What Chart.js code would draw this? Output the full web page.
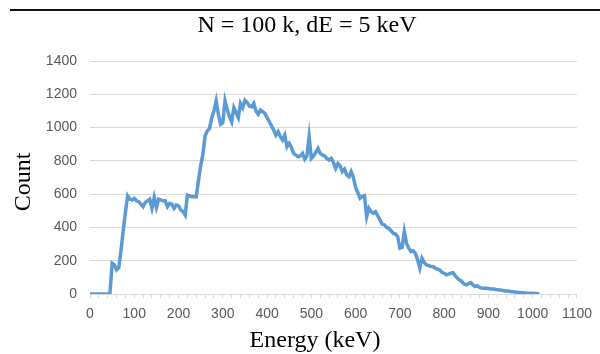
<!DOCTYPE html>
<html>
<head>
  <meta charset="UTF-8">
  <title>Energy spectrum</title>
  <script src="https://cdn.jsdelivr.net/npm/chart.js"></script>
  <style>
    body { margin: 0; background: #fff; }
  </style>
</head>
<body>
  <canvas id="spectrum" width="600" height="354"></canvas>

  <script>
    // energy bins (keV), 5 keV wide
    const energies = [
      0, 5, 10, 15, 20, 25, 30, 35, 40, 45,
      50, 55, 60, 65, 70, 75, 80, 85, 90, 95,
      100, 105, 110, 115, 120, 125, 130, 135, 140, 145,
      150, 155, 160, 165, 170, 175, 180, 185, 190, 195,
      200, 205, 210, 215, 220, 225, 230, 235, 240, 245,
      250, 255, 260, 265, 270, 275, 280, 285, 290, 295,
      300, 305, 310, 315, 320, 325, 330, 335, 340, 345,
      350, 355, 360, 365, 370, 375, 380, 385, 390, 395,
      400, 405, 410, 415, 420, 425, 430, 435, 440, 445,
      450, 455, 460, 465, 470, 475, 480, 485, 490, 495,
      500, 505, 510, 515, 520, 525, 530, 535, 540, 545,
      550, 555, 560, 565, 570, 575, 580, 585, 590, 595,
      600, 605, 610, 615, 620, 625, 630, 635, 640, 645,
      650, 655, 660, 665, 670, 675, 680, 685, 690, 695,
      700, 705, 710, 715, 720, 725, 730, 735, 740, 745,
      750, 755, 760, 765, 770, 775, 780, 785, 790, 795,
      800, 805, 810, 815, 820, 825, 830, 835, 840, 845,
      850, 855, 860, 865, 870, 875, 880, 885, 890, 895,
      900, 905, 910, 915, 920, 925, 930, 935, 940, 945,
      950, 955, 960, 965, 970, 975, 980, 985, 990, 995,
      1000, 1005, 1010, 1015
    ];

    // counts per bin
    const counts = [
      0, 0, 0, 0, 0, 0, 0, 0, 0, 0,
      185, 175, 145, 160, 260, 380, 490, 590, 570, 565,
      575, 560, 555, 540, 525, 550, 560, 570, 515, 580,
      520, 570, 565, 560, 560, 525, 545, 540, 515, 535,
      530, 505, 495, 474, 594, 590, 584, 586, 584, 680,
      770, 840, 950, 980, 995, 1060, 1100, 1160, 1080, 1020,
      1030, 1160, 1110, 1065, 1035, 1120, 1090, 1060, 1145, 1120,
      1164, 1150, 1130, 1125, 1145, 1100, 1080, 1105, 1095, 1085,
      1060, 1035, 1010, 985, 955, 975, 945, 925, 955, 885,
      905, 880, 845, 835, 825, 830, 845, 810, 830, 945,
      815, 830, 850, 875, 845, 835, 830, 815, 805, 815,
      790, 755, 785, 770, 735, 750, 715, 705, 735, 700,
      640, 610, 575, 585, 590, 465, 515, 495, 485, 495,
      470, 445, 420, 415, 400, 395, 380, 365, 360, 345,
      275, 280, 375, 305, 275, 255, 260, 244, 205, 155,
      215, 190, 175, 170, 165, 165, 155, 150, 145, 130,
      125, 115, 120, 125, 128, 110, 95, 84, 75, 60,
      55, 62, 68, 55, 45, 50, 40, 36, 34, 35,
      33, 30, 30, 28, 26, 24, 22, 20, 18, 18,
      15, 13, 12, 10, 9, 8, 7, 6, 5, 5,
      4, 3, 3, 2
    ];

    const chartTitle = 'N = 100 k, dE = 5 keV';
    const xTitle = 'Energy (keV)';
    const yTitle = 'Count';

    const points = energies.map((e, i) => ({ x: e, y: counts[i] }));

    const serif = '"Liberation Serif", "Times New Roman", serif';
    const sans = '"Liberation Sans", Arial, sans-serif';

    // white background, black rule, and the serif titles (placed like the original figure)
    const figureText = {
      id: 'figureText',
      beforeDraw(chart) {
        const ctx = chart.ctx;
        ctx.save();
        ctx.fillStyle = '#fff';
        ctx.fillRect(0, 0, chart.width, chart.height);
        ctx.fillStyle = '#111';
        ctx.fillRect(10, 9, chart.width - 10, 2);
        ctx.restore();
      },
      afterDraw(chart) {
        const ctx = chart.ctx;
        ctx.save();
        ctx.fillStyle = '#000';
        ctx.font = '24px ' + serif;
        ctx.textAlign = 'center';
        ctx.textBaseline = 'alphabetic';
        ctx.fillText(chartTitle, 307, 32);
        ctx.fillText(xTitle, 315, 347);
        ctx.translate(30, 182);
        ctx.rotate(-Math.PI / 2);
        ctx.fillText(yTitle, 0, 0);
        ctx.restore();
      }
    };

    new Chart(document.getElementById('spectrum'), {
      type: 'line',
      data: {
        datasets: [{
          data: points,
          borderColor: '#5b9bd5',
          borderWidth: 3.5,
          pointRadius: 0,
          tension: 0,
          fill: false
        }]
      },
      options: {
        responsive: false,
        animation: false,
        layout: { padding: { top: 61, left: 0, right: 21, bottom: 0 } },
        plugins: {
          legend: { display: false },
          tooltip: { enabled: false },
          title: { display: false }
        },
        scales: {
          x: {
            type: 'linear',
            min: 0,
            max: 1100,
            ticks: {
              stepSize: 20,
              autoSkip: false,
              maxRotation: 0,
              color: '#595959',
              font: { family: sans, size: 14 },
              padding: 8,
              callback: v => (v % 100 === 0 ? String(v) : '')
            },
            grid: { drawOnChartArea: false, tickLength: 4, color: '#d9d9d9' },
            border: { color: '#d9d9d9' },
            afterFit(scale) { scale.height = 60; }
          },
          y: {
            min: 0,
            max: 1400,
            ticks: {
              stepSize: 200,
              color: '#595959',
              font: { family: sans, size: 14 },
              padding: 13,
              callback: v => String(v)
            },
            grid: { color: '#d9d9d9', drawTicks: false },
            border: { display: false },
            afterFit(scale) { scale.width = 90; }
          }
        }
      },
      plugins: [figureText]
    });
  </script>
</body>
</html>
